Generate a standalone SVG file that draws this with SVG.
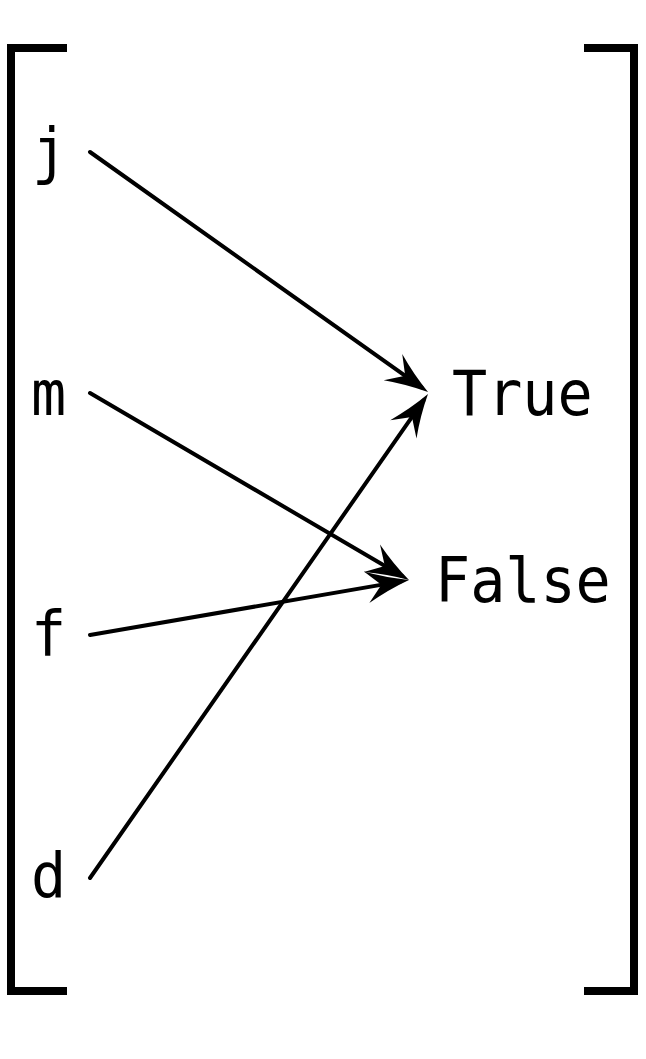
<svg xmlns="http://www.w3.org/2000/svg" width="646" height="1059" viewBox="0 0 646 1059">
<style>
.lbl{font-family:"DejaVu Sans Mono",monospace;font-size:63px;fill:#000}
.br{fill:none;stroke:#000;stroke-width:8;stroke-linejoin:miter}
.ar{stroke:#000;stroke-width:4;fill:none;stroke-linecap:round}
</style>
<defs>
<marker id="st" markerUnits="userSpaceOnUse" markerWidth="60" markerHeight="60" refX="0" refY="0" orient="auto" overflow="visible">
<path d="M8,0 Q-14,-6 -35,-16 L-20,0 L-35,16 Q-14,6 8,0 Z" fill="#000"/>
</marker>
</defs>
<rect width="646" height="1059" fill="#fff"/>
<g id="brackets">
<path class="br" d="M67,48 H11 V991 H67"/>
<path class="br" d="M584,48 H634 V991 H584"/>
</g>
<g id="node-j"><text class="lbl" transform="translate(32,172) scale(0.927,1)">j</text></g>
<g id="node-m"><text class="lbl" transform="translate(31,415) scale(0.927,1)">m</text></g>
<g id="node-f"><text class="lbl" transform="translate(31,655) scale(0.927,1)">f</text></g>
<g id="node-d"><text class="lbl" transform="translate(31,897) scale(0.927,1)">d</text></g>
<g id="node-true"><text class="lbl" transform="translate(452,415) scale(0.927,1)">True</text></g>
<g id="node-false"><text class="lbl" transform="translate(435,602) scale(0.927,1)">False</text></g>
<g id="connectors">
<line class="ar" x1="90" y1="152" x2="421.5" y2="387.4" marker-end="url(#st)"/>
<line class="ar" x1="90" y1="393" x2="402.1" y2="576" marker-end="url(#st)"/>
<line class="ar" x1="90" y1="635" x2="401.1" y2="581.4" marker-end="url(#st)"/>
<line class="ar" x1="90" y1="878" x2="423.4" y2="400.6" marker-end="url(#st)"/>
</g>
</svg>
